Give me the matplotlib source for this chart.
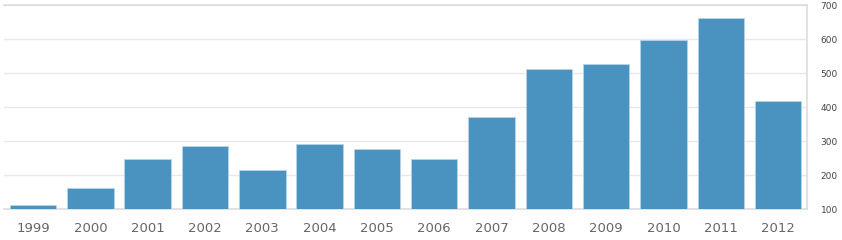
import matplotlib
matplotlib.use("Agg")
import matplotlib.pyplot as plt

years = ["1999", "2000", "2001", "2002", "2003", "2004", "2005",
         "2006", "2007", "2008", "2009", "2010", "2011", "2012"]
values = [113, 161, 247, 286, 215, 292, 278, 248, 370, 512, 527, 596, 663, 418]
yticks = [100, 200, 300, 400, 500, 600, 700]

bar_color = "#4a92bf"
grid_color = "#e8e8e8"

fig = plt.figure(figsize=(8.42, 2.40), dpi=100)
ax = fig.add_axes([0.0052, 0.129, 0.953, 0.85])

x = list(range(len(years)))
ax.bar(x, values, width=0.81, color=bar_color, edgecolor="#b8d4e8",
       linewidth=0.6, zorder=3)

ax.set_xlim(-0.5, len(years) - 0.5)
ax.set_ylim(100, 700)
ax.set_xticks(x)
ax.set_xticklabels(years, fontsize=9.5, color="#666666")
ax.set_yticks(yticks)
ax.yaxis.tick_right()
ax.set_yticklabels([str(v) for v in yticks], fontsize=6.5, color="#444444")
ax.tick_params(axis="both", length=0)
ax.tick_params(axis="x", pad=9)
ax.tick_params(axis="y", pad=10)

ax.grid(axis="y", color=grid_color, linewidth=1, zorder=0)
for side in ["top", "right", "bottom"]:
    ax.spines[side].set_color("#dddddd")
    ax.spines[side].set_linewidth(1.2)
ax.spines["left"].set_visible(False)

fig.savefig("out.png", dpi=100)
